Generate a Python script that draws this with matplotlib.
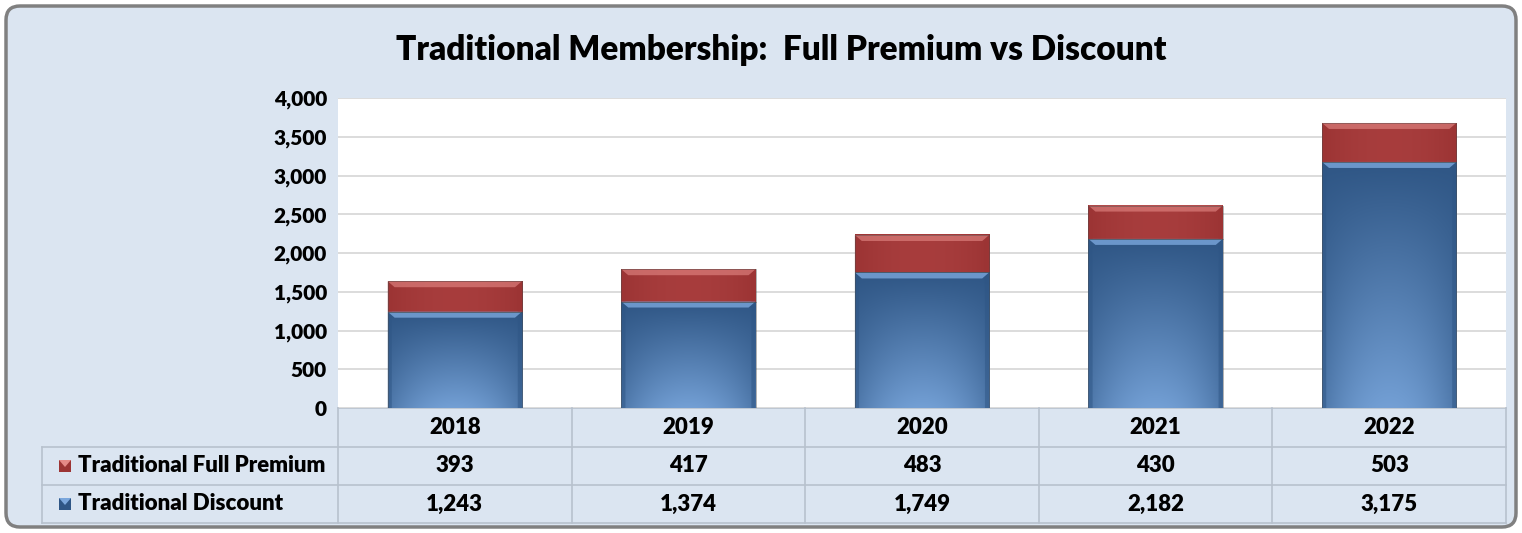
import numpy as np
import matplotlib.pyplot as plt
import matplotlib.transforms as mtrans
from matplotlib.patches import FancyBboxPatch, Rectangle, Polygon
from matplotlib.colors import to_rgb

plt.rcParams['font.family'] = ['Lato', 'DejaVu Sans']
plt.rcParams['font.weight'] = 'heavy'

# data
years = ['2018', '2019', '2020', '2021', '2022']
full_premium = [393, 417, 483, 430, 503]
discount = [1243, 1374, 1749, 2182, 3175]
series_names = ['Traditional Full Premium', 'Traditional Discount']
title = 'Traditional Membership:  Full Premium vs Discount'

W, H = 1522, 533
fig = plt.figure(figsize=(W / 100, H / 100), dpi=100)
fig.patch.set_facecolor('white')

# background axes in pixel coords
bg = fig.add_axes([0, 0, 1, 1])
bg.set_xlim(0, W)
bg.set_ylim(H, 0)
bg.axis('off')
bg.add_patch(FancyBboxPatch((6, 6), W - 12, H - 12,
                            boxstyle='round,pad=0,rounding_size=14',
                            facecolor='#dbe5f1', edgecolor='#808080',
                            linewidth=2.5))
bg.text(781, 50, title, ha='center', va='center', fontsize=24,
        fontweight='heavy', color='black')

# plot area
L, R, T, B = 338, 1506, 98, 408
ax = fig.add_axes([L / W, (H - B) / H, (R - L) / W, (B - T) / H])
ax.set_facecolor('white')
ax.set_xlim(-0.5, len(years) - 0.5)
ax.set_ylim(0, 4000)
ax.set_yticks(np.arange(0, 4001, 500))
ax.set_yticklabels(['{:,}'.format(v) for v in range(0, 4001, 500)],
                   fontsize=15, fontweight='heavy')
ax.set_xticks([])
ax.tick_params(axis='y', length=0, pad=8)
for s in ax.spines.values():
    s.set_visible(False)
ax.grid(axis='y', color='#d9d9d9', linewidth=1.3)
ax.set_axisbelow(True)

px_x = (R - L) / len(years)          # pixels per x unit
px_y = (B - T) / 4000.0              # pixels per y unit
bar_w = 0.575


def grad_seg(x, bottom, height, dark, light, top_col, kind):
    x0, x1 = x - bar_w / 2, x + bar_w / 2
    y0, y1 = bottom, bottom + height
    ny, nx = 60, 60
    t = np.linspace(0, 1, ny)[:, None]          # 0 bottom -> 1 top
    u = np.abs(np.linspace(-1, 1, nx))[None, :]
    d, l = np.array(to_rgb(dark)), np.array(to_rgb(light))
    if kind == 'blue':
        f = (1 - t) * 0.9 * (1 - 0.55 * u ** 2)
    else:
        f = 0.3 * (1 - u ** 2) * np.ones_like(t)
    img = d[None, None, :] + (l - d)[None, None, :] * f[:, :, None]
    ax.imshow(np.clip(img, 0, 1), extent=(x0, x1, y0, y1), origin='lower',
              aspect='auto', zorder=2, interpolation='bilinear')
    dx = 7 / px_x
    dy = min(6 / px_y, height * 0.3)
    # top bevel
    ax.add_patch(Polygon([(x0, y1), (x1, y1), (x1 - dx, y1 - dy), (x0 + dx, y1 - dy)],
                         closed=True, facecolor=top_col, edgecolor='none',
                         alpha=0.6 if kind == 'red' else 0.8, zorder=3))
    # side bevels
    ax.add_patch(Polygon([(x0, y0), (x0, y1), (x0 + dx * 0.6, y1 - dy), (x0 + dx * 0.6, y0)],
                         closed=True, facecolor=dark, edgecolor='none', alpha=0.5, zorder=3))
    ax.add_patch(Polygon([(x1, y0), (x1, y1), (x1 - dx * 0.6, y1 - dy), (x1 - dx * 0.6, y0)],
                         closed=True, facecolor=dark, edgecolor='none', alpha=0.5, zorder=3))
    ax.add_patch(Rectangle((x0, y0), bar_w, height, facecolor='none',
                           edgecolor='#4a4a4a', linewidth=0.6, alpha=0.5, zorder=4))


for i, yr in enumerate(years):
    grad_seg(i, 0, discount[i], '#2f5685', '#7aa7dd', '#7ba7dc', 'blue')
    grad_seg(i, discount[i], full_premium[i], '#9c3434', '#c25252', '#e58a87', 'red')

# data table
tr = mtrans.blended_transform_factory(ax.transData, bg.transData)
line_c = '#b8c2ce'
rows_y = [408, 447, 485, 523]
bg.plot([L, R], [408, 408], color=line_c, lw=1.2)
for yy in rows_y[1:]:
    bg.plot([42, R], [yy, yy], color=line_c, lw=1.2)
bg.plot([42, 42], [447, 523], color=line_c, lw=1.2)
for k in range(len(years) + 1):
    ax.plot([k - 0.5, k - 0.5], [408, 523], color=line_c, lw=1.2,
            transform=tr, clip_on=False)

for i, yr in enumerate(years):
    ax.text(i, 428, yr, transform=tr, ha='center', va='center', fontsize=16,
            fontweight='heavy')
    ax.text(i, 466, '{:,}'.format(full_premium[i]), transform=tr, ha='center',
            va='center', fontsize=16, fontweight='heavy')
    ax.text(i, 504, '{:,}'.format(discount[i]), transform=tr, ha='center',
            va='center', fontsize=16, fontweight='heavy')

for name, yy, c1, c2 in [(series_names[0], 466, '#9c3434', '#e58a87'),
                         (series_names[1], 504, '#2f5685', '#7ba7dc')]:
    bg.add_patch(Rectangle((59, yy - 6), 12, 12, facecolor=c1, edgecolor='none'))
    bg.add_patch(Polygon([(59, yy - 6), (71, yy - 6), (65, yy + 1)],
                         facecolor=c2, edgecolor='none'))
    bg.text(78, yy, name, ha='left', va='center', fontsize=16, fontweight='heavy')

fig.savefig('out.png', dpi=100)
